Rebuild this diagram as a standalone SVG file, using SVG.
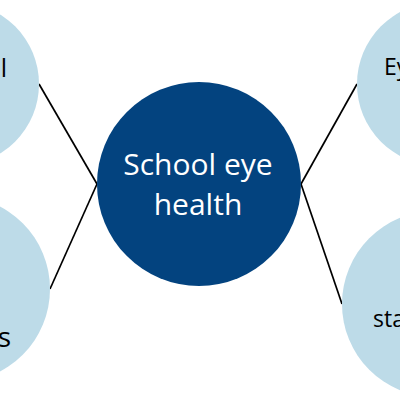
<svg xmlns="http://www.w3.org/2000/svg" width="400" height="400" viewBox="0 0 400 400">
<style>
.sat{fill:#bddbe8}
.hub{fill:#03437f}
.lbl{font-family:"Open Sans","Noto Sans",sans-serif;fill:#000}
.hubt{font-family:"Open Sans","Noto Sans",sans-serif;fill:#fff;font-size:30px;text-anchor:middle}
.conn line{stroke:#000;stroke-width:1.7}
</style>
<rect width="400" height="400" fill="#fff"/>
<g id="connectors" class="conn">
<line x1="39" y1="84" x2="97" y2="184"/>
<line x1="50" y1="289" x2="97" y2="184"/>
<line x1="357" y1="84" x2="301" y2="184"/>
<line x1="342" y1="304" x2="301" y2="184"/>
</g>
<g id="node-top-left">
<circle class="sat" cx="-42.6" cy="84" r="81.6"/>
<text class="lbl" x="7" y="77" font-size="25" text-anchor="end">l</text>
</g>
<g id="node-bottom-left">
<circle class="sat" cx="-43" cy="289" r="93"/>
<text class="lbl" x="11" y="347" font-size="28" text-anchor="end">s</text>
</g>
<g id="node-top-right">
<circle class="sat" cx="438.6" cy="84" r="81.6"/>
<text class="lbl" x="384" y="75" font-size="23">Ey</text>
</g>
<g id="node-bottom-right">
<circle class="sat" cx="435" cy="304" r="93"/>
<text class="lbl" x="373" y="327" font-size="23">sta</text>
</g>
<g id="node-center">
<circle class="hub" cx="199" cy="184" r="102"/>
<text class="hubt" x="198" y="175">School eye</text>
<text class="hubt" x="198" y="215">health</text>
</g>
</svg>
